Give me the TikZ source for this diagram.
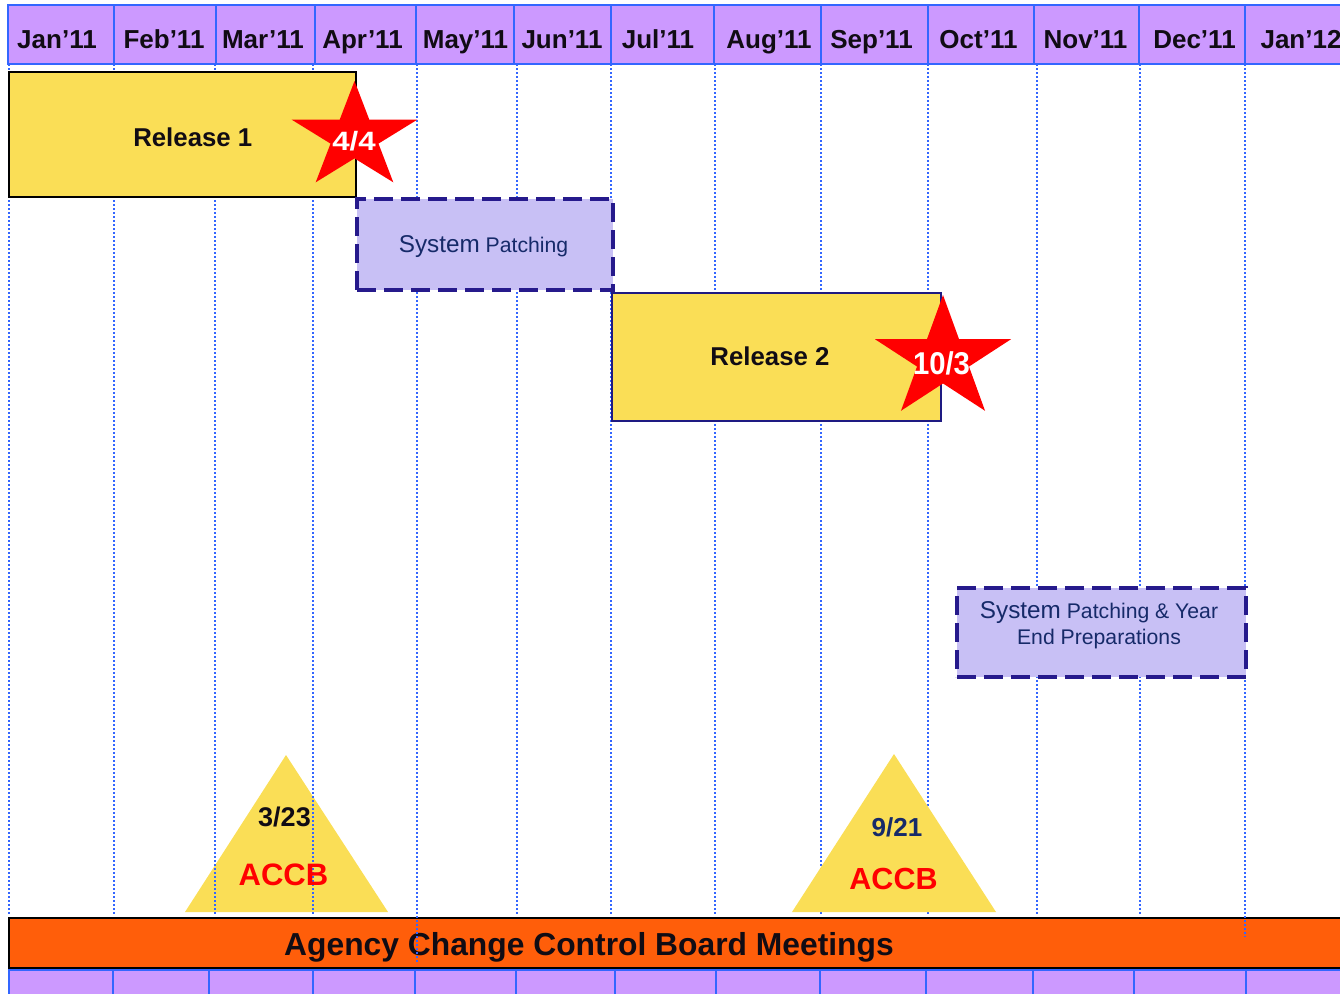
\documentclass[tikz,border=0pt]{standalone}
\usepackage{fontspec}
\setmainfont{Liberation Sans}
\usepackage{graphicx}

\definecolor{hdrfill}{RGB}{204,153,255}
\definecolor{gridblue}{RGB}{51,102,255}
\definecolor{relfill}{RGB}{250,222,86}
\definecolor{relline}{RGB}{30,26,130}
\definecolor{patchfill}{RGB}{200,192,245}
\definecolor{patchline}{RGB}{38,26,140}
\definecolor{navytext}{RGB}{22,42,105}
\definecolor{barorange}{RGB}{255,94,10}
\definecolor{starred}{RGB}{255,0,0}
\definecolor{inktext}{RGB}{17,12,20}

\newcommand\pxfont[1]{\fontsize{#1}{#1}\selectfont}

\begin{document}
\begin{tikzpicture}[x=1pt,y=-1pt,
  cell/.style={fill=hdrfill,draw=gridblue,line width=2pt},
  month/.style={font=\pxfont{26}\bfseries,text=inktext,inner sep=0pt,anchor=base},
  gridline/.style={draw=gridblue,line width=1.5pt,dash pattern=on 1.6pt off 2.4pt},
  relbox/.style={fill=relfill,line width=2pt,inner sep=0pt,anchor=north west},
  reltext/.style={font=\pxfont{25.8}\bfseries,text=inktext,inner sep=0pt,anchor=base},
  patchbox/.style={fill=patchfill,draw=patchline,line width=4pt,
    dash pattern=on 19pt off 8pt,inner sep=0pt,anchor=north west},
  patchtext/.style={font=\pxfont{21.2},text=navytext,inner sep=0pt,anchor=base},
  startext/.style={font=\bfseries,text=white,inner sep=0pt,anchor=base},
  datetext/.style={font=\pxfont{27}\bfseries,inner sep=0pt,anchor=base},
  accbtext/.style={font=\pxfont{31}\bfseries,text=starred,inner sep=0pt,anchor=base},
  barbox/.style={fill=barorange,draw=black,line width=2pt,inner sep=0pt,anchor=north west},
  bartext/.style={font=\pxfont{31.8}\bfseries,text=inktext,inner sep=0pt,anchor=base}]

\useasboundingbox (0,0) rectangle (1340,993);
\clip (0,0) rectangle (1340,993);

% month header row
\foreach \a/\b in {8/114,114/216,216/315,315/416,416/514,514/611,611/714,
                   714/821,821/928,928/1034,1034/1139,1139/1245,1245/1380}
  \draw[cell] (\a,5) rectangle (\b,64);
\foreach \x/\t/\n in {57/Jan’11/m1,164/Feb’11/m2,263/Mar’11/m3,362.5/Apr’11/m4,
                      465.5/May’11/m5,562/Jun’11/m6,658/Jul’11/m7,769/Aug’11/m8,
                      871.5/Sep’11/m9,978.5/Oct’11/m10,1085.5/Nov’11/m11,
                      1194.5/Dec’11/m12,1301/Jan’12/m13}
  \node[month] (\n) at (\x,48.3) {\t};

% lower month row (cut at the page edge)
\foreach \a/\b in {8.5/113,113/209,209/313,313/414.5,414.5/516,516/614.5,
                   614.5/715.5,715.5/819.6,819.6/926,926/1033,1033/1134,
                   1134/1246,1246/1380}
  \draw[cell] (\a,970) rectangle (\b,1010);

% board meeting bar
\node[barbox,minimum width=1360pt,minimum height=50pt] (acb) at (8,917) {};
\node[bartext] (acbtxt) at (589,955) {Agency Change Control Board Meetings};

% first ACCB milestone (grid lines run over it)
\fill[relfill] (185,912) -- (286,755) -- (388,912) -- cycle;

% dotted month grid
\foreach \x/\e in {9/915,114/915,215/915,313/915,417/964,517/915,611/915,
                   715/915,821/915,928/915,1037/915,1140/915,1245/937}
  \draw[gridline] (\x,64) -- (\x,\e);

% second ACCB milestone (covers the grid lines)
\fill[relfill] (792,912) -- (894,754) -- (996,912) -- cycle;

\node[datetext,text=inktext] (d1) at (284.5,826) {3/23};
\node[accbtext] (a1) at (283.5,885.7) {ACCB};
\node[datetext,text=navytext,font=\pxfont{26}\bfseries] (d2) at (897,836) {9/21};
\node[accbtext,font=\pxfont{30.5}\bfseries] (a2) at (893.5,889) {ACCB};

% releases
\node[relbox,draw=black,minimum width=347pt,minimum height=125pt] (rel1) at (8,71) {};
\node[reltext] (rel1txt) at (192.8,146.7) {Release 1};
\node[relbox,draw=relline,minimum width=329pt,minimum height=128pt] (rel2) at (611,292) {};
\node[reltext] (rel2txt) at (770,365) {Release 2};

% patching windows
\node[patchbox,minimum width=256pt,minimum height=91pt] (patch1) at (355,197) {};
\node[patchtext] (patch1txt) at (483.5,252.5)
  {{\pxfont{24.3}System} Patching};
\node[patchbox,minimum width=289pt,minimum height=89pt] (patch2) at (955,586) {};
\node[patchtext] (patch2a) at (1099,618.3)
  {{\pxfont{24.3}System} Patching \& Year};
\node[patchtext] (patch2b) at (1099,644) {End Preparations};

% release date stars
\begin{scope}[shift={(354.5,137)},x=66pt,y=56pt]
  \fill[starred] (90:1) -- (126:0.382) -- (162:1) -- (198:0.382) -- (234:1)
    -- (270:0.382) -- (306:1) -- (342:0.382) -- (18:1) -- (54:0.382) -- cycle;
\end{scope}
\node[startext] (s1) at (354,150.7) {\scalebox{1.18}[1]{\pxfont{26.5}4/4}};

\begin{scope}[shift={(943,359)},x=71.5pt,y=64pt]
  \fill[starred] (90:1) -- (126:0.382) -- (162:1) -- (198:0.382) -- (234:1)
    -- (270:0.382) -- (306:1) -- (342:0.382) -- (18:1) -- (54:0.382) -- cycle;
\end{scope}
\node[startext] (s2) at (941.5,374) {\scalebox{0.93}[1]{\pxfont{31.5}10/3}};

\end{tikzpicture}
\end{document}
